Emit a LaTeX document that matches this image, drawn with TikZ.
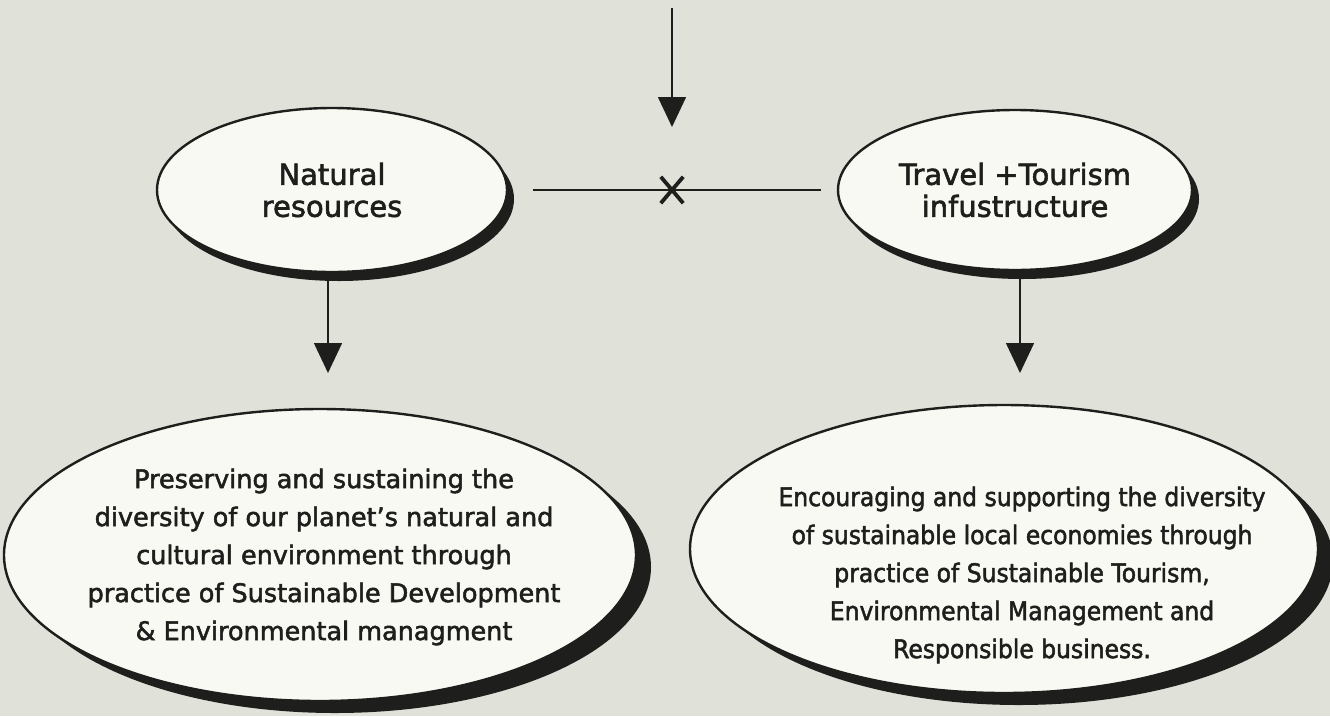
\documentclass[tikz,border=0pt]{standalone}
\usepackage{fontspec}
\setmainfont[FakeBold=2]{DejaVu Sans}
\newfontfamily\condfont[FakeStretch=0.92,FakeBold=2]{DejaVu Sans}
\usetikzlibrary{arrows.meta,shadows,shapes.geometric}
\definecolor{bg}{RGB}{224,225,217}
\definecolor{fillc}{RGB}{249,249,243}
\definecolor{ink}{RGB}{30,30,28}
\tikzset{
  oval/.style={ellipse, draw=ink, line width=2.4pt, fill=fillc, inner sep=0pt, align=center, text=ink},
  smallshadow/.style={drop shadow={shadow xshift=7pt, shadow yshift=-9pt, fill=ink, opacity=1}},
  bigshadow/.style={drop shadow={shadow xshift=15pt, shadow yshift=-12pt, fill=ink, opacity=1}},
  toptext/.style={font=\fontsize{29}{32}\selectfont},
  bodytext/.style={align=center, text=ink, inner sep=0pt},
  conn/.style={draw=ink, line width=1.6pt},
  arr/.style={conn, -{Triangle[width=28pt,length=30pt]}},
  xbox/.style={rectangle, minimum width=22pt, minimum height=26pt, inner sep=0pt},
  xline/.style={draw=ink, line width=3.8pt}
}
\begin{document}
\begin{tikzpicture}[x=1pt,y=-1pt]
  \useasboundingbox (0,0) rectangle (1330,716);
  \fill[bg] (0,0) rectangle (1330,716);

  % top ellipses
  \node[oval, smallshadow, toptext, minimum width=350pt, minimum height=164pt] (nat) at (332,190) {Natural\\resources};
  \node[oval, smallshadow, toptext, minimum width=354pt, minimum height=160pt] (tra) at (1015,190) {Travel +Tourism\\infustructure};

  % bottom ellipses
  \node[oval, bigshadow, minimum width=632pt, minimum height=292pt] (pres) at (320,555) {};
  \node[oval, bigshadow, minimum width=628pt, minimum height=288pt] (enc) at (1004,549) {};

  \node[bodytext, font=\fontsize{25.5}{38}\selectfont] (prest) at ([xshift=4pt,yshift=-2pt]pres.center)
    {Preserving and sustaining the\\diversity of our planet’s natural and\\cultural environment through\\practice of Sustainable Development\\\& Environmental managment};
  \node[bodytext, font=\condfont\fontsize{25.5}{38}\selectfont] (enct) at ([xshift=18pt,yshift=-26pt]enc.center)
    {Encouraging and supporting the diversity\\of sustainable local economies through\\practice of Sustainable Tourism,\\Environmental Management and\\Responsible business.};

  % connectors
  \coordinate (topstart) at (672,8);
  \coordinate (toptip) at (672,127);
  \draw[arr] (topstart) -- (toptip);

  \draw[conn] ([xshift=25pt]nat.east) -- ([xshift=-16pt]tra.west);
  \node[xbox] (x) at (672,190) {};
  \draw[xline] (x.north west) -- (x.south east);
  \draw[xline] (x.north east) -- (x.south west);

  \coordinate (nattip) at (328,373);
  \coordinate (tratip) at (1020,373);
  \draw[arr] (nat.south -| nattip) -- (nattip);
  \draw[arr] (tra.south -| tratip) -- (tratip);
\end{tikzpicture}
\end{document}
